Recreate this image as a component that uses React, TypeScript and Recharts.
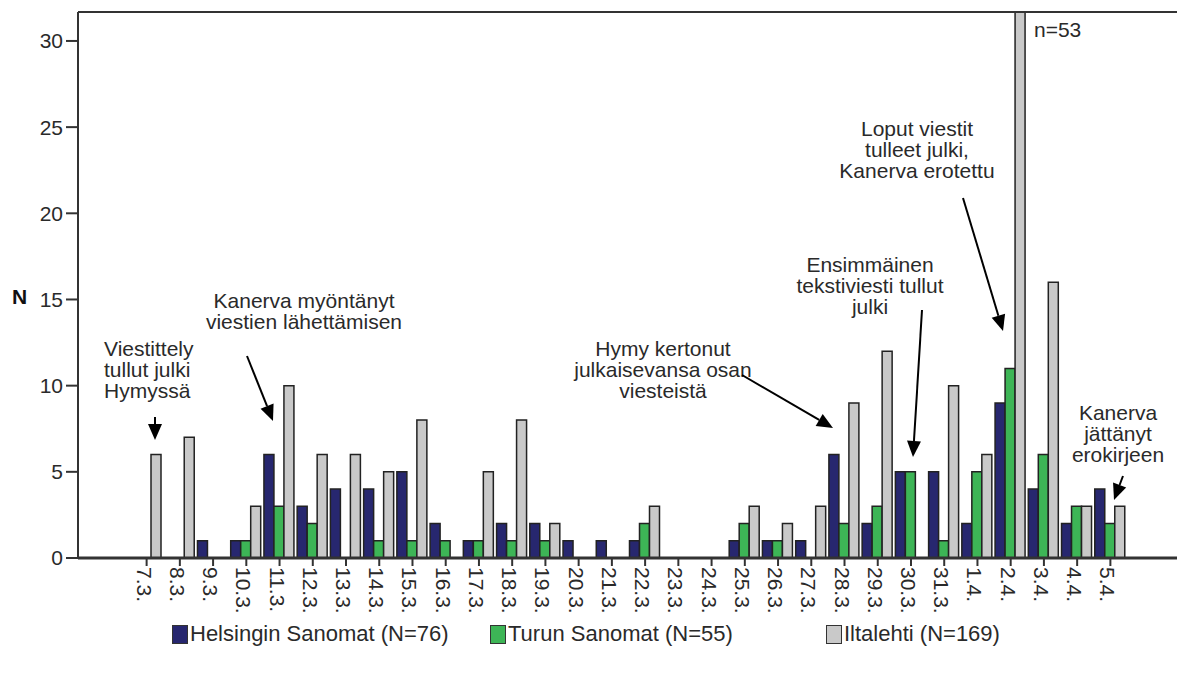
import React from 'react';
import { BarChart, Bar, XAxis, YAxis, ReferenceLine, Legend } from 'recharts';

const categories = ['7.3.', '8.3.', '9.3.', '10.3.', '11.3.', '12.3.', '13.3.', '14.3.', '15.3.', '16.3.', '17.3.', '18.3.', '19.3.', '20.3.', '21.3.', '22.3.', '23.3.', '24.3.', '25.3.', '26.3.', '27.3.', '28.3.', '29.3.', '30.3.', '31.3.', '1.4.', '2.4.', '3.4.', '4.4.', '5.4.'];
const helsinginSanomat = [0, 0, 1, 1, 6, 3, 4, 4, 5, 2, 1, 2, 2, 1, 1, 1, 0, 0, 1, 1, 1, 6, 2, 5, 5, 2, 9, 4, 2, 4];
const turunSanomat = [0, 0, 0, 1, 3, 2, 0, 1, 1, 1, 1, 1, 1, 0, 0, 2, 0, 0, 2, 1, 0, 2, 3, 5, 1, 5, 11, 6, 3, 2];
const iltalehti = [6, 7, 0, 3, 10, 6, 6, 5, 8, 0, 5, 8, 2, 0, 0, 3, 0, 0, 3, 2, 3, 9, 12, 0, 10, 6, 53, 16, 3, 3];
const yTicks = [0, 5, 10, 15, 20, 25, 30];
const seriesNames = ['Helsingin Sanomat (N=76)', 'Turun Sanomat (N=55)', 'Iltalehti (N=169)'];

const data = categories.map((c, i) => ({
  date: c,
  hs: helsinginSanomat[i],
  ts: turunSanomat[i],
  il: iltalehti[i],
}));

const FONT = '"Liberation Sans", Arial, sans-serif';
const COLORS = { hs: '#27276f', ts: '#3db556', il: '#c9c9c9' };
const TEXT = '#2a2a2a';

const XTick = (props: any) => {
  const { x, y, payload } = props;
  return (
    <text
      transform={`translate(${x},${y - 1}) rotate(90)`}
      x={0}
      y={0}
      dy={10}
      textAnchor="start"
      fontSize={21}
      fontFamily={FONT}
      fill={TEXT}
    >
      {payload.value}
    </text>
  );
};

const LegendContent = () => {
  const items = [
    { key: 'hs', left: 172, name: seriesNames[0] },
    { key: 'ts', left: 490, name: seriesNames[1] },
    { key: 'il', left: 826, name: seriesNames[2] },
  ];
  return (
    <div style={{ position: 'relative', width: 1177, height: 30 }}>
      {items.map((it) => (
        <div key={it.key} style={{ position: 'absolute', left: it.left, top: 0, display: 'flex', alignItems: 'center', whiteSpace: 'nowrap' }}>
          <span style={{ display: 'inline-block', width: 14, height: 17, background: (COLORS as any)[it.key], border: '1px solid #333', marginRight: 2 }} />
          <span style={{ fontFamily: FONT, fontSize: 22, color: TEXT, lineHeight: '24px' }}>{it.name}</span>
        </div>
      ))}
    </div>
  );
};

type Ann = { x: number; y: number; anchor: 'start' | 'middle'; lines: string[] };
const annotations: Ann[] = [
  { x: 104, y: 356, anchor: 'start', lines: ['Viestittely', 'tullut julki', 'Hymyssä'] },
  { x: 304, y: 308, anchor: 'middle', lines: ['Kanerva myöntänyt', 'viestien lähettämisen'] },
  { x: 663, y: 356, anchor: 'middle', lines: ['Hymy kertonut', 'julkaisevansa osan', 'viesteistä'] },
  { x: 870, y: 272, anchor: 'middle', lines: ['Ensimmäinen', 'tekstiviesti tullut', 'julki'] },
  { x: 917, y: 136, anchor: 'middle', lines: ['Loput viestit', 'tulleet julki,', 'Kanerva erotettu'] },
  { x: 1118, y: 420, anchor: 'middle', lines: ['Kanerva', 'jättänyt', 'erokirjeen'] },
];
const arrows = [
  [155, 417, 155, 440],
  [247, 356, 273, 421],
  [742, 375, 833, 428],
  [922, 310, 913, 457],
  [963, 198, 1003, 331],
  [1123, 476, 1114, 500],
];

const Arrow = ({ a }: { a: number[] }) => {
  const [x1, y1, x2, y2] = a;
  const dx = x2 - x1, dy = y2 - y1;
  const len = Math.sqrt(dx * dx + dy * dy);
  const ux = dx / len, uy = dy / len;
  const hl = 16, hw = 7;
  const bx = x2 - ux * hl, by = y2 - uy * hl;
  const pts = `${x2},${y2} ${bx - uy * hw},${by + ux * hw} ${bx + uy * hw},${by - ux * hw}`;
  return (
    <g>
      <line x1={x1} y1={y1} x2={bx} y2={by} stroke="#000" strokeWidth={2} />
      <polygon points={pts} fill="#000" />
    </g>
  );
};

export default function App() {
  return (
    <div style={{ position: 'absolute', left: 0, top: 0, width: 1177, height: 675, background: '#fff' }}>
      <BarChart
        width={1177}
        height={675}
        data={data}
        margin={{ top: 12, right: 0, left: 0, bottom: 0 }}
        barCategoryGap={1}
        barGap={0}
      >
        <XAxis
          dataKey="date"
          height={117}
          interval={0}
          padding={{ left: 52, right: 50 }}
          tick={<XTick />}
          tickSize={8}
          tickLine={{ stroke: '#333', strokeWidth: 2 }}
          axisLine={{ stroke: '#333', strokeWidth: 3 }}
        />
        <YAxis
          width={78}
          domain={[0, 31.68]}
          ticks={yTicks}
          allowDataOverflow
          tickSize={12}
          tickMargin={3}
          tick={{ fontSize: 21, fill: TEXT, fontFamily: FONT }}
          tickLine={{ stroke: '#333', strokeWidth: 2 }}
          axisLine={{ stroke: '#333', strokeWidth: 2 }}
          label={{
            content: (p: any) => {
              const vb = p.viewBox;
              return (
                <text x={vb.x + 12} y={vb.y + vb.height / 2 + 19} fontSize={21} fontWeight="bold" fontFamily={FONT} fill="#111">
                  N
                </text>
              );
            },
          }}
        />
        <ReferenceLine y={31.68} stroke="#333" strokeWidth={2} />
        <Bar dataKey="hs" name={seriesNames[0]} fill={COLORS.hs} stroke="#222" strokeWidth={1.5} isAnimationActive={false} />
        <Bar dataKey="ts" name={seriesNames[1]} fill={COLORS.ts} stroke="#222" strokeWidth={1.5} isAnimationActive={false} />
        <Bar dataKey="il" name={seriesNames[2]} fill={COLORS.il} stroke="#222" strokeWidth={1.5} isAnimationActive={false} />
        <Legend
          layout="horizontal"
          verticalAlign="middle"
          align="center"
          content={<LegendContent />}
          wrapperStyle={{ top: 622, left: 0, width: 1177, height: 30 }}
        />
      </BarChart>
      <svg width={1177} height={675} style={{ position: 'absolute', left: 0, top: 0, pointerEvents: 'none' }}>
        {annotations.map((a, i) => (
          <text key={i} x={a.x} y={a.y} textAnchor={a.anchor} fontSize={21} fontFamily={FONT} fill={TEXT}>
            {a.lines.map((l, j) => (
              <tspan key={j} x={a.x} dy={j === 0 ? 0 : 21}>
                {l}
              </tspan>
            ))}
          </text>
        ))}
        <text x={1034} y={37} fontSize={21} fontFamily={FONT} fill={TEXT}>n=53</text>
        {arrows.map((a, i) => (
          <Arrow key={i} a={a} />
        ))}
      </svg>
    </div>
  );
}
